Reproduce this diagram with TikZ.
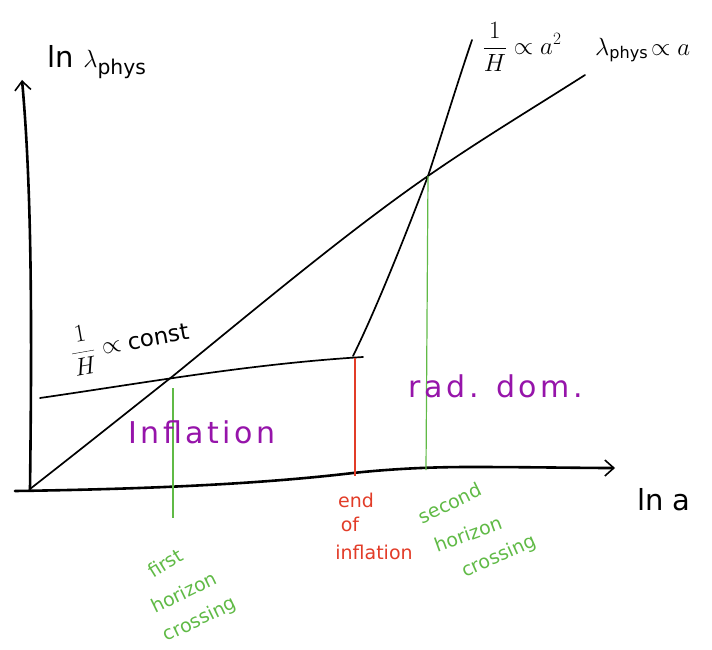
\documentclass[tikz,border=0pt]{standalone}
\usepackage{fontspec}
\setmainfont{DejaVu Sans}
\usetikzlibrary{arrows.meta}
\definecolor{grn}{RGB}{96,186,70}
\definecolor{rd}{RGB}{226,60,40}
\definecolor{pur}{RGB}{150,20,170}
\tikzset{
  axis/.style={line width=2.6pt, line cap=round, -{Straight Barb[length=9pt,width=16pt,line width=1.6pt]}},
  curve/.style={line width=1.7pt, line cap=round},
  vline/.style={line width=1.2pt},
  lbl/.style={font=\fontsize{23}{25}\selectfont, inner sep=1pt},
  big/.style={font=\fontsize{29}{31}\selectfont, inner sep=1pt},
  spaced/.style={font=\fontsize{30}{32}\selectfont\addfontfeatures{LetterSpace=12}, inner sep=1pt},
  word/.style={font=\fontsize{19}{20}\selectfont, inner sep=0pt},
}
\begin{document}
\begin{tikzpicture}[x=1pt,y=-1pt]
\useasboundingbox (0,0) rectangle (712,650);
% coordinates
\coordinate (O) at (30,489);
\coordinate (Ytop) at (22,80);
\coordinate (Xs) at (15,491);
\coordinate (Xe) at (615,468);
\coordinate (Lend) at (585,75);
\coordinate (Hs) at (40,398);
\coordinate (He) at (363,357);
\coordinate (Hk) at (353,356);
\coordinate (Htop) at (472,40);
\coordinate (C1) at (173,376);
\coordinate (C2) at (428,176);
\coordinate (G1t) at (173,388);
\coordinate (G1b) at (173,518);
\coordinate (R1) at (355,358);
\coordinate (R1b) at (355,476);
\coordinate (G2b) at (426,470);
% axes
\draw[axis] (O) .. controls (32,330) and (32,190) .. (Ytop);
\draw[axis] (Xs) .. controls (150,489) and (260,484) .. (353,473) .. controls (400,468) and (440,467) .. (470,467) .. controls (530,467) and (580,468) .. (Xe);
% lambda_phys ~ a
\draw[curve] (O) .. controls (80,450) and (130,410) .. (C1) .. controls (260,305) and (350,230) .. (C2) .. controls (480,140) and (530,110) .. (Lend);
% 1/H const
\draw[curve] (Hs) .. controls (150,382) and (250,364) .. (He);
% 1/H ~ a^2
\draw[curve] (Hk) .. controls (372,318) and (400,250) .. (C2) .. controls (440,140) and (455,90) .. (Htop);
% verticals
\draw[vline, grn] (G1t) -- (G1b);
\draw[vline, rd] (R1) -- (R1b);
\draw[vline, grn] (C2) -- (G2b);
% labels
\node[big] (ylab) at (97,62) {ln $\lambda_{\mathrm{phys}}$};
\node[big] (xlab) at (664,500) {ln a};
\node[lbl] (hsq) at (522,47) {$\displaystyle\frac{1}{H}\propto a^{2}$};
\node[lbl, anchor=west] (lphys) at (594,50) {$\lambda_{\mathrm{phys}}\!\propto a$};
\node[lbl, rotate=10] (hconst) at (130,342) {$\displaystyle\frac{1}{H}\propto$ const};
\node[spaced, pur] (infl) at (202,432) {Inflation};
\node[spaced, pur] (rad) at (496,386) {rad. dom.};
\node[word, rd] (e1) at (356,500) {end};
\node[word, rd] (e2) at (350,524) {of};
\node[word, rd] (e3) at (374,552) {inflation};
\node[word, grn, rotate=26] (s1) at (450,503) {second};
\node[word, grn, rotate=20] (s2) at (468,534) {horizon};
\node[word, grn, rotate=24] (s3) at (499,557) {crossing};
\node[word, grn, rotate=32] (f1) at (165,563) {first};
\node[word, grn, rotate=26] (f2) at (184,592) {horizon};
\node[word, grn, rotate=26] (f3) at (200,620) {crossing};
\end{tikzpicture}
\end{document}
